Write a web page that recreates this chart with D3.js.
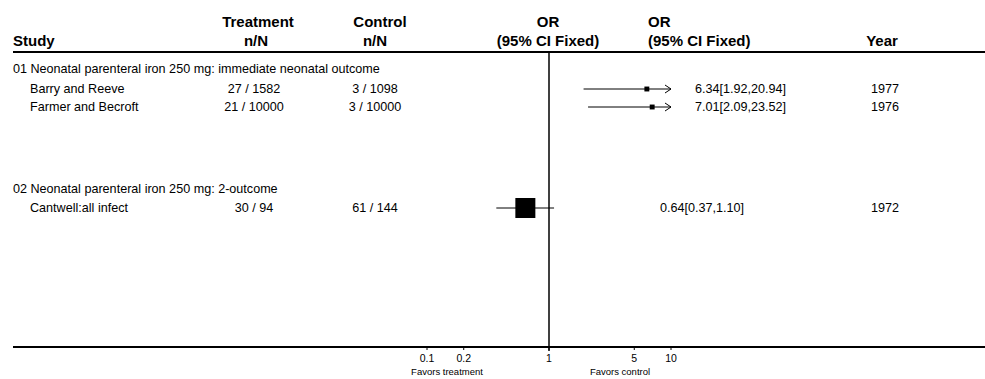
<!DOCTYPE html>
<meta charset="utf-8">
<head>
  <title>Forest plot</title>
</head>
<style>
body { margin: 0; background: #fff; }
text { font-family: "Liberation Sans", Arial, sans-serif; fill: #000; }
.hdr { font-weight: bold; font-size: 15px; }
.row { font-size: 12.6px; }
.tick { font-size: 10.5px; }
.fav { font-size: 9.5px; }
.rule { stroke: #000; stroke-width: 2px; }
.ci { stroke: #000; stroke-width: 1px; fill: none; }
</style>
<body>
  <svg width="985" height="379"></svg>
  <script src="https://cdnjs.cloudflare.com/ajax/libs/d3/7.8.5/d3.min.js"></script>
  <script>
// subgroups
var groups = [
  "01 Neonatal parenteral iron 250 mg: immediate neonatal outcome",
  "02 Neonatal parenteral iron 250 mg: 2-outcome"
];
// studies
var studies = ["Barry and Reeve", "Farmer and Becroft", "Cantwell:all infect"];
var studyGroup = [0, 0, 1];
var trtN = ["27 / 1582", "21 / 10000", "30 / 94"];
var ctlN = ["3 / 1098", "3 / 10000", "61 / 144"];
var or = [6.34, 7.01, 0.64];
var lo = [1.92, 2.09, 0.37];
var hi = [20.94, 23.52, 1.10];
var weight = [6, 6, 100];
var years = [1977, 1976, 1972];
var tickVals = [0.1, 0.2, 1, 5, 10];

var svg = d3.select('svg');

var x = d3.scaleLog().domain([0.1, 10]).range([427, 671]);
var box = d3.scaleSqrt().domain([0, 100]).range([0, 20]);

// row y positions
var groupY = [69, 189];
var studyY = [89, 107, 208];
// the OR text does not line up the same in every row of the original
var orTextX = [695, 695, 660];

var headTop = 55, axisY = 347;

// header
var h = svg.append('g').attr('class', 'hdr');
h.append('text').attr('x', 13).attr('y', 46).text('Study');
h.append('text').attr('x', 258).attr('y', 27).attr('text-anchor', 'middle').text('Treatment');
h.append('text').attr('x', 256).attr('y', 46).attr('text-anchor', 'middle').text('n/N');
h.append('text').attr('x', 380).attr('y', 27).attr('text-anchor', 'middle').text('Control');
h.append('text').attr('x', 375).attr('y', 46).attr('text-anchor', 'middle').text('n/N');
h.append('text').attr('x', 548).attr('y', 27).attr('text-anchor', 'middle').text('OR');
h.append('text').attr('x', 548).attr('y', 46).attr('text-anchor', 'middle').text('(95% CI Fixed)');
h.append('text').attr('x', 648).attr('y', 27).text('OR');
h.append('text').attr('x', 648).attr('y', 46).text('(95% CI Fixed)');
h.append('text').attr('x', 882).attr('y', 46).attr('text-anchor', 'middle').text('Year');

svg.append('line').classed('rule', true)
  .attr('x1', 13).attr('x2', 985).attr('y1', headTop - 3).attr('y2', headTop - 3);
svg.append('line').classed('rule', true)
  .attr('x1', 13).attr('x2', 985).attr('y1', axisY).attr('y2', axisY);

// line of no effect
svg.append('line')
  .attr('x1', x(1)).attr('x2', x(1))
  .attr('y1', headTop - 3).attr('y2', axisY + 4)
  .attr('stroke', '#000').attr('stroke-width', 1.5);

// group titles
svg.selectAll('text.grp')
  .data(groups)
  .enter()
  .append('text')
  .attr('class', 'row grp')
  .attr('x', 13)
  .attr('y', function(d, i) { return groupY[i] + 4; })
  .text(function(d) { return d; });

var rows = svg.selectAll('g.study')
  .data(studies)
  .enter()
  .append('g')
  .attr('class', 'study row')
  .attr('transform', function(d, i) { return 'translate(0,' + studyY[i] + ')'; });

rows.append('text').attr('x', 30).attr('y', 4).text(function(d) { return d; });
rows.append('text').attr('x', 254).attr('y', 4).attr('text-anchor', 'middle')
  .text(function(d, i) { return trtN[i]; });
rows.append('text').attr('x', 375).attr('y', 4).attr('text-anchor', 'middle')
  .text(function(d, i) { return ctlN[i]; });
rows.append('text').attr('x', function(d, i) { return orTextX[i]; }).attr('y', 4)
  .text(function(d, i) {
    return or[i].toFixed(2) + '[' + lo[i].toFixed(2) + ',' + hi[i].toFixed(2) + ']';
  });
rows.append('text').attr('x', 885).attr('y', 4).attr('text-anchor', 'middle')
  .text(function(d, i) { return years[i]; });

// confidence intervals, clipped to the axis with an arrow
var xmax = x.domain()[1];
rows.append('line').classed('ci', true)
  .attr('x1', function(d, i) { return x(Math.max(lo[i], 0.1)); })
  .attr('x2', function(d, i) { return x(Math.min(hi[i], xmax)); })
  .attr('y1', 0).attr('y2', 0);
rows.filter(function(d, i) { return hi[i] > xmax; })
  .append('path').classed('ci', true)
  .attr('d', function() {
    var e = x(xmax);
    return 'M' + (e - 6) + ',-4L' + e + ',0L' + (e - 6) + ',4';
  });
rows.append('rect')
  .attr('x', function(d, i) { return x(or[i]) - box(weight[i]) / 2; })
  .attr('y', function(d, i) { return -box(weight[i]) / 2; })
  .attr('width', function(d, i) { return box(weight[i]); })
  .attr('height', function(d, i) { return box(weight[i]); })
  .attr('fill', '#000');

// axis
var ax = svg.append('g').attr('transform', 'translate(0,' + axisY + ')');
ax.selectAll('line.tk')
  .data(tickVals)
  .enter()
  .append('line')
  .attr('x1', function(d) { return x(d); })
  .attr('x2', function(d) { return x(d); })
  .attr('y1', 0).attr('y2', 3)
  .attr('stroke', '#000');
ax.selectAll('text.tick')
  .data(tickVals)
  .enter()
  .append('text')
  .attr('class', 'tick')
  .attr('x', function(d) { return x(d); })
  .attr('y', 15)
  .attr('text-anchor', 'middle')
  .text(function(d) { return d; });
ax.append('text').attr('class', 'fav').attr('x', 447).attr('y', 28)
  .attr('text-anchor', 'middle').text('Favors treatment');
ax.append('text').attr('class', 'fav').attr('x', 620).attr('y', 28)
  .attr('text-anchor', 'middle').text('Favors control');
  </script>
</body>
</html>
